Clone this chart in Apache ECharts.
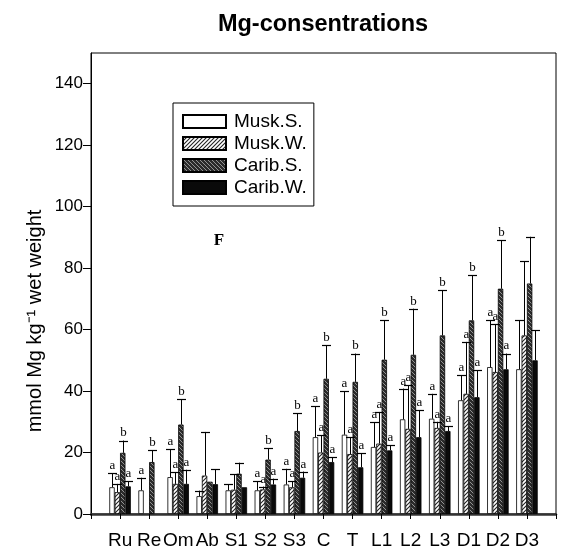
<!DOCTYPE html>
<html>
<head>
<meta charset="utf-8">
<script src="https://cdn.jsdelivr.net/npm/echarts@6/dist/echarts.min.js"></script>
<style>html,body{margin:0;padding:0;background:#fff;}#c{width:563px;height:553px;}</style>
</head>
<body>
<div id="c"></div>
<script>
const categories = ['Ru','Re','Om','Ab','S1','S2','S3','C','T','L1','L2','L3','D1','D2','D3'];
const yTicks = [0,20,40,60,80,100,120,140];
const seriesNames = ['Musk.S.','Musk.W.','Carib.S.','Carib.W.'];

const muskS     = [8.7, 7.7, 12.0, 5.8, 7.7, 7.7, 9.6, 25.0, 25.8, 21.8, 30.8, 31.0, 37.0, 47.8, 47.1];
const muskSErr  = [13.3, 11.8, 21.0, 7.6, 9.6, 10.7, 14.7, 35.0, 39.9, 29.9, 40.8, 39.1, 45.1, 63.0, 63.0];
const muskSLab  = ['a','a','a','','','a','a','a','a','a','a','a','a','a',''];

const muskW     = [7.1, null, 9.8, 12.5, 7.9, 8.0, 8.7, 20.0, 19.5, 22.9, 27.7, 28.0, 39.1, 46.2, 58.1];
const muskWErr  = [9.8, null, 13.6, 26.7, 12.9, 8.9, 10.7, 25.6, 25.0, 33.2, 41.9, 30.0, 56.0, 61.7, 82.3];
const muskWLab  = ['a','','a','','','a','a','a','a','a','a','a','a','a',''];

const caribS    = [19.9, 16.9, 29.1, 10.5, 13.1, 17.7, 27.0, 44.0, 43.0, 50.2, 51.8, 58.1, 63.0, 73.3, 75.0];
const caribSErr = [23.9, 20.7, 37.3, null, 16.7, 21.4, 32.8, 54.9, 52.2, 63.0, 66.8, 72.8, 77.7, 89.1, 90.2];
const caribSLab = ['b','b','b','','','b','b','b','b','b','b','b','b','b',''];

const caribW    = [9.0, null, 9.8, 9.7, 8.7, 9.6, 11.8, 16.9, 15.2, 20.7, 25.0, 27.0, 38.0, 47.1, 50.0];
const caribWErr = [10.6, null, 14.4, 14.5, null, 11.5, 13.8, 18.5, 19.8, 22.3, 33.7, 28.5, 46.7, 52.2, 59.8];
const caribWLab = ['a','','a','','','a','a','a','a','a','a','a','a','a',''];

const CAT_GAP = 0.26;

function makePattern(bg, fg, dir, lw) {
  const c = document.createElement('canvas');
  c.width = 4; c.height = 4;
  const g = c.getContext('2d');
  g.fillStyle = bg; g.fillRect(0, 0, 4, 4);
  g.strokeStyle = fg; g.lineWidth = lw;
  g.beginPath();
  if (dir > 0) {
    g.moveTo(-1, 5); g.lineTo(5, -1);
    g.moveTo(-1, 1); g.lineTo(1, -1);
    g.moveTo(3, 5); g.lineTo(5, 3);
  } else {
    g.moveTo(-1, -1); g.lineTo(5, 5);
    g.moveTo(3, -1); g.lineTo(5, 1);
    g.moveTo(-1, 3); g.lineTo(1, 5);
  }
  g.stroke();
  return { image: c, repeat: 'repeat' };
}

const fills = [
  '#ffffff',
  makePattern('#ffffff', '#222222', 1, 1.1),
  makePattern('#2b2b2b', 'rgba(255,255,255,0.55)', -1, 0.9),
  '#0a0a0a'
];

const xCats = [''].concat(categories, ['']);
const pad = arr => [null].concat(arr, [null]);

const vals = [muskS, muskW, caribS, caribW];
const errs = [muskSErr, muskWErr, caribSErr, caribWErr];
const labs = [muskSLab, muskWLab, caribSLab, caribWLab];

const barSeries = seriesNames.map((name, k) => ({
  name: name,
  type: 'bar',
  data: pad(vals[k]),
  barGap: '0%',
  barCategoryGap: (CAT_GAP * 100) + '%',
  itemStyle: { color: fills[k], borderColor: '#000', borderWidth: 0.8 },
  emphasis: { disabled: true },
  z: 2
}));

const errSeries = seriesNames.map((name, k) => {
  const data = [];
  const labList = [];
  categories.forEach((c, i) => {
    if (vals[k][i] != null && errs[k][i] != null) {
      data.push([i + 1, vals[k][i], errs[k][i]]);
      labList.push(labs[k][i]);
    }
  });
  return {
    type: 'custom',
    name: name + ' err',
    data: data,
    encode: { x: 0, y: [1, 2] },
    z: 3,
    silent: true,
    renderItem: function (params, api) {
      const x = api.value(0);
      const band = api.size([1, 0])[0];
      const bw = band * (1 - CAT_GAP) / 4;
      const off = (k - 1.5) * bw;
      const p0 = api.coord([x, api.value(1)]);
      const p1 = api.coord([x, api.value(2)]);
      const cx = Math.round(p0[0] + off) + 0.5;
      const lab = labList[params.dataIndex];
      const children = [
        { type: 'line', shape: { x1: cx, y1: p0[1], x2: cx, y2: p1[1] }, style: { stroke: '#000', lineWidth: 1 } },
        { type: 'line', shape: { x1: cx - 4.5, y1: Math.round(p1[1]) + 0.5, x2: cx + 4.5, y2: Math.round(p1[1]) + 0.5 }, style: { stroke: '#000', lineWidth: 1.2 } }
      ];
      if (lab) {
        children.push({ type: 'text', x: cx, y: p1[1] - 1, style: { text: lab, fill: '#000', font: '13px "Liberation Serif", serif', align: 'center', verticalAlign: 'bottom' } });
      }
      return { type: 'group', children: children };
    }
  };
});

const chart = echarts.init(document.getElementById('c'), null, { renderer: 'canvas' });
chart.setOption({
  animation: false,
  backgroundColor: '#fff',
  grid: { left: 91, right: 7, top: 53, bottom: 39, show: true, borderColor: '#000', borderWidth: 1, backgroundColor: 'transparent' },
  legend: {
    data: seriesNames,
    orient: 'vertical',
    left: 173, top: 103,
    icon: 'rect',
    itemWidth: 43, itemHeight: 13, itemGap: 3,
    padding: [9, 7, 9, 9],
    borderColor: '#000', borderWidth: 1,
    backgroundColor: '#fff',
    textStyle: { fontFamily: '"Liberation Sans", Arial, sans-serif', fontSize: 19, color: '#000', padding: [0, 0, 0, 3] },
    selectedMode: false
  },
  xAxis: {
    type: 'category',
    data: xCats,
    boundaryGap: false,
    axisLine: { lineStyle: { color: '#333', width: 2.5 } },
    axisTick: { show: true, length: 5, interval: 0, lineStyle: { color: '#000' } },
    axisLabel: { interval: 0, fontFamily: '"Liberation Sans", Arial, sans-serif', fontSize: 19, color: '#000', margin: 17 },
    splitLine: { show: false }
  },
  yAxis: {
    type: 'value',
    min: 0, max: 150,
    axisLine: { show: true, lineStyle: { color: '#000', width: 1 } },
    axisTick: { show: true, length: 8, customValues: yTicks, lineStyle: { color: '#000' } },
    axisLabel: { customValues: yTicks, fontFamily: '"Liberation Sans", Arial, sans-serif', fontSize: 17, color: '#000', margin: 8 },
    splitLine: { show: false }
  },
  graphic: [
    { type: 'text', x: 323, y: 25, style: { text: 'Mg-consentrations', font: 'bold 23.5px "Liberation Sans", Arial, sans-serif', fill: '#000', align: 'center', verticalAlign: 'middle' } },
    { type: 'text', x: 35, y: 321, rotation: Math.PI / 2, style: { text: 'mmol Mg kg\u207B\u00B9 wet weight', font: '20px "Liberation Sans", Arial, sans-serif', fill: '#000', align: 'center', verticalAlign: 'middle' } },
    { type: 'text', x: 219, y: 241, style: { text: 'F', font: 'bold 17px "Liberation Serif", serif', fill: '#000', align: 'center', verticalAlign: 'middle' } }
  ],
  series: barSeries.concat(errSeries)
});
</script>
</body>
</html>
